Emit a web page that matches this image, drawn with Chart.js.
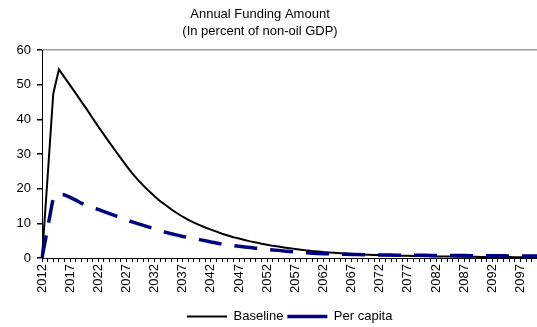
<!DOCTYPE html>
<html>
<head>
<meta charset="utf-8">
<script src="https://cdn.jsdelivr.net/npm/chart.js@4/dist/chart.umd.min.js"></script>
<style>
  html, body { margin: 0; padding: 0; background: #fff; overflow: hidden; }
  #wrap { position: relative; width: 537px; height: 327px; overflow: hidden; }
  #c { position: absolute; left: 0; top: 0; }
</style>
</head>
<body>
<div id="wrap"><canvas id="c" width="555" height="327"></canvas></div>
<script>
// Years covered by the projection
const years = [
  '2012','2013','2014','2015','2016','2017','2018','2019','2020','2021',
  '2022','2023','2024','2025','2026','2027','2028','2029','2030','2031',
  '2032','2033','2034','2035','2036','2037','2038','2039','2040','2041',
  '2042','2043','2044','2045','2046','2047','2048','2049','2050','2051',
  '2052','2053','2054','2055','2056','2057','2058','2059','2060','2061',
  '2062','2063','2064','2065','2066','2067','2068','2069','2070','2071',
  '2072','2073','2074','2075','2076','2077','2078','2079','2080','2081',
  '2082','2083','2084','2085','2086','2087','2088','2089','2090','2091',
  '2092','2093','2094','2095','2096','2097','2098','2099','2100'
];

// Years that carry a label on the horizontal axis
const tickLabels = [
  '2012','2017','2022','2027','2032','2037','2042','2047','2052',
  '2057','2062','2067','2072','2077','2082','2087','2092','2097'
];

// Annual funding, percent of non-oil GDP
const baseline = [
  0, 23.5, 47.4, 54.4, 52.1, 49.8, 47.5, 45.1, 42.8, 40.3,
  37.9, 35.6, 33.3, 31.0, 28.8, 26.6, 24.5, 22.6, 20.9, 19.3,
  17.8, 16.4, 15.2, 14.0, 12.9, 11.9, 11.0, 10.2, 9.5, 8.8,
  8.2, 7.6, 7.0, 6.5, 6.0, 5.6, 5.2, 4.8, 4.5, 4.1,
  3.8, 3.5, 3.3, 3.0, 2.8, 2.6, 2.4, 2.2, 2.0, 1.9,
  1.7, 1.6, 1.5, 1.4, 1.3, 1.2, 1.1, 1.0, 0.95, 0.9,
  0.85, 0.8, 0.75, 0.7, 0.66, 0.62, 0.58, 0.55, 0.52, 0.49,
  0.46, 0.44, 0.42, 0.40, 0.38, 0.36, 0.34, 0.33, 0.31, 0.30,
  0.29, 0.28, 0.27, 0.26, 0.25, 0.24, 0.23, 0.22, 0.21
];

const perCapita = [
  0, 8.7, 17.4, 18.5, 18.2, 17.5, 16.7, 15.8, 15.1, 14.5,
  14.0, 13.4, 12.8, 12.2, 11.7, 11.0, 10.4, 9.9, 9.4, 8.9,
  8.4, 7.9, 7.4, 7.0, 6.6, 6.2, 5.9, 5.6, 5.3, 5.0,
  4.6, 4.3, 4.0, 3.8, 3.6, 3.4, 3.2, 3.0, 2.8, 2.6,
  2.4, 2.3, 2.2, 2.0, 1.9, 1.75, 1.6, 1.5, 1.4, 1.3,
  1.25, 1.2, 1.15, 1.1, 1.05, 1.0, 0.98, 0.95, 0.92, 0.9,
  0.88, 0.86, 0.84, 0.82, 0.8, 0.79, 0.78, 0.77, 0.76, 0.75,
  0.74, 0.73, 0.72, 0.71, 0.7, 0.69, 0.68, 0.67, 0.66, 0.65,
  0.64, 0.63, 0.62, 0.61, 0.6, 0.59, 0.58, 0.57, 0.56
];

const titleLines = ['Annual Funding Amount', '(In percent of non-oil GDP)'];

const FONT = '"Liberation Sans", Arial, sans-serif';

// Two-line heading drawn above the plot
const headingPlugin = {
  id: 'heading',
  afterDraw(chart) {
    const ctx = chart.ctx;
    ctx.save();
    ctx.fillStyle = '#000';
    ctx.font = '13px ' + FONT;
    ctx.textAlign = 'center';
    ctx.textBaseline = 'middle';
    ctx.fillText(titleLines[0], 260, 14);
    ctx.fillText(titleLines[1], 260, 31);
    ctx.restore();
  }
};

new Chart(document.getElementById('c'), {
  type: 'line',
  data: {
    labels: years,
    datasets: [
      {
        label: 'Baseline',
        data: baseline,
        borderColor: '#000000',
        backgroundColor: '#000000',
        borderWidth: 2,
        pointRadius: 0,
        tension: 0,
        order: 1
      },
      {
        label: 'Per capita',
        data: perCapita,
        borderColor: '#000080',
        backgroundColor: '#000080',
        borderWidth: 3.5,
        borderDash: [23, 13],
        pointRadius: 0,
        tension: 0,
        order: 0
      }
    ]
  },
  options: {
    responsive: false,
    animation: false,
    layout: { padding: { top: 50, right: 0, left: 0, bottom: -6 } },
    plugins: {
      title: { display: false },
      tooltip: { enabled: false },
      legend: {
        position: 'bottom',
        fullSize: false,
        labels: {
          usePointStyle: true,
          pointStyle: 'line',
          pointStyleWidth: 40,
          boxHeight: 13,
          padding: 4,
          color: '#000',
          font: { family: FONT, size: 13 },
          sort: (a, b) => a.datasetIndex - b.datasetIndex
        }
      }
    },
    scales: {
      x: {
        type: 'category',
        offset: false,
        border: { display: true, color: '#000', width: 1 },
        grid: {
          display: true,
          drawOnChartArea: false,
          drawTicks: true,
          tickLength: 4,
          tickColor: '#000',
          offset: false
        },
        ticks: {
          autoSkip: false,
          maxRotation: 90,
          minRotation: 90,
          padding: 2,
          color: '#000',
          font: { family: FONT, size: 13 },
          callback: function (value, index) {
            const y = years[index];
            return tickLabels.includes(y) ? y : '';
          }
        },
        afterFit(scale) { scale.height = 48; }
      },
      y: {
        min: 0,
        max: 60,
        border: { display: true, color: '#000', width: 1 },
        grid: {
          drawTicks: true,
          tickLength: 5,
          tickColor: '#000',
          color: (c) => (c.tick && c.tick.value === 60 ? '#999999' : 'rgba(0,0,0,0)'),
          lineWidth: 1.5
        },
        ticks: {
          stepSize: 10,
          padding: 6,
          color: '#000',
          font: { family: FONT, size: 13 }
        },
        afterFit(scale) { scale.width = 42; }
      }
    }
  },
  plugins: [headingPlugin]
});
</script>
</body>
</html>
